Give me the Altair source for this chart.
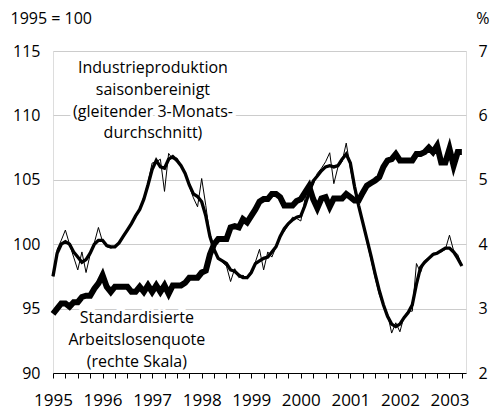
import altair as alt
import pandas as pd

# Monthly data, Jan 1995 .. Apr 2003 (index = months since Jan 1995)
ip_raw = [97.5, 99.6, 100.3, 101.1, 100.0, 99.0, 98.0, 99.4, 97.8, 99.2,
          100.1, 101.3, 100.2, 99.8, 99.7, 99.8, 100.1, 100.5, 101.1, 101.7,
          102.2, 102.8, 103.6, 104.8, 106.3, 106.4, 106.6, 104.1, 107.05, 106.6,
          106.7, 106.1, 105.4, 104.5, 103.6, 102.9, 105.1, 103.0, 100.6, 99.5,
          99.0, 98.6, 98.3, 97.1, 98.1, 97.4, 97.6, 97.3, 97.7, 98.6,
          99.6, 98.0, 99.4, 99.0, 99.8, 100.6, 101.0, 101.5, 102.1, 102.0,
          101.8, 103.5, 104.85, 104.6, 105.5, 105.9, 106.4, 107.1, 104.7, 106.0,
          106.4, 107.85, 105.9, 104.2, 102.9, 101.6, 100.2, 98.8, 97.4, 96.1,
          95.2, 94.6, 93.1, 93.9, 93.2, 94.4, 94.8, 94.8, 98.5, 97.8,
          98.7, 99.0, 99.3, 99.3, 99.4, 99.6, 100.7, 99.5, 99.2, 98.3]

ip_avg = [97.5, 99.3, 100.0, 100.2, 100.0, 99.4, 99.0, 98.6, 98.8, 99.3,
          100.0, 100.3, 100.3, 99.9, 99.8, 99.8, 100.1, 100.6, 101.1, 101.6,
          102.2, 102.7, 103.5, 104.6, 105.8, 106.5, 106.0, 105.9, 106.6, 106.8,
          106.5, 106.1, 105.5, 104.6, 103.9, 103.7, 103.3, 102.2, 100.6, 99.6,
          98.9, 98.7, 98.5, 98.0, 97.9, 97.6, 97.4, 97.4, 97.8, 98.5,
          98.7, 98.9, 99.0, 99.4, 99.8, 100.6, 101.2, 101.6, 101.9, 102.1,
          102.2, 103.0, 104.0, 104.9, 105.3, 105.7, 106.0, 106.1, 106.0, 106.1,
          106.6, 107.0, 106.3, 104.5, 103.0, 101.7, 100.4, 99.1, 97.7, 96.4,
          95.3, 94.4, 93.8, 93.6, 93.8, 94.3, 94.7, 95.3, 96.9, 98.2,
          98.6, 98.9, 99.2, 99.3, 99.5, 99.7, 99.7, 99.4, 98.9, 98.3]

unemp = [2.92, 3.0, 3.08, 3.08, 3.03, 3.1, 3.1, 3.18, 3.2, 3.2,
         3.31, 3.39, 3.52, 3.34, 3.26, 3.34, 3.34, 3.34, 3.34, 3.26,
         3.26, 3.34, 3.26, 3.36, 3.26, 3.36, 3.26, 3.36, 3.23, 3.36,
         3.36, 3.36, 3.4, 3.48, 3.48, 3.48, 3.56, 3.59, 3.84, 4.0,
         4.08, 4.08, 4.08, 4.26, 4.28, 4.26, 4.39, 4.34, 4.44, 4.54,
         4.66, 4.70, 4.70, 4.78, 4.78, 4.73, 4.6, 4.6, 4.6, 4.67,
         4.7, 4.8, 4.9, 4.7, 4.56, 4.71, 4.73, 4.58, 4.71, 4.71,
         4.71, 4.78, 4.73, 4.68, 4.68, 4.8, 4.91, 4.95, 4.99, 5.04,
         5.2, 5.3, 5.32, 5.4, 5.3, 5.3, 5.3, 5.3, 5.4, 5.4,
         5.43, 5.5, 5.43, 5.53, 5.27, 5.27, 5.48, 5.22, 5.43, 5.43]

months = list(range(len(ip_raw)))
year_ticks = [0, 3, 6, 9, 12, 15, 18, 21, 24, 27, 30, 33, 36, 39, 42, 45, 48,
              51, 54, 57, 60, 63, 66, 69, 72, 75, 78, 81, 84, 87, 90, 93, 96, 99]
left_ticks = [90, 95, 100, 105, 110, 115]
right_ticks = [2, 3, 4, 5, 6, 7]

ip_label = ["Industrieproduktion", "saisonbereinigt", "(gleitender 3-Monats-", "durchschnitt)"]
ip_label_m = [24.2, 24.2, 24.2, 24.2]
ip_label_v = [113.7, 112.0, 110.3, 108.6]
ue_label = ["Standardisierte", "Arbeitslosenquote", "(rechte Skala)"]
ue_label_m = [20.3, 20.3, 20.3]
ue_label_v = [94.3, 92.6, 90.85]

df = pd.DataFrame({"m": months, "ip_raw": ip_raw, "ip_avg": ip_avg, "ue": unemp})
ann_ip = pd.DataFrame({"m": ip_label_m, "v": ip_label_v, "t": ip_label})
ann_ue = pd.DataFrame({"m": ue_label_m, "v": ue_label_v, "t": ue_label})

FONT = "Open Sans"

xs = alt.Scale(domain=[0, 100], nice=False, zero=False)
ys_left = alt.Scale(domain=[90, 115], nice=False, zero=False)
ys_right = alt.Scale(domain=[2, 7], nice=False, zero=False)

x_axis = alt.Axis(values=year_ticks, grid=False, domain=True, domainColor="black",
                  domainWidth=1, ticks=True, tickColor="black", tickSize=5, tickWidth=1,
                  labelExpr="datum.value % 12 == 0 ? toString(1995 + datum.value / 12) : ''",
                  labelFlush=False, labelOverlap=False, labelBound=False,
                  labelFontSize=17, labelPadding=14, labelBaseline="top",
                  labelColor="black", title=None)
X = alt.X("m:Q", scale=xs, axis=x_axis)

left_axis = alt.Axis(values=left_ticks, grid=True, gridColor="#cccccc", gridWidth=1,
                     domain=False, ticks=False, labelPadding=13, labelFontSize=16,
                     labelColor="black", title="1995 = 100", titleAngle=0,
                     titleX=-43, titleY=-33, titleAlign="left", titleBaseline="middle",
                     titleFontWeight="normal", titleFontSize=16, titleColor="black")
right_axis = alt.Axis(values=right_ticks, grid=False, orient="right", domain=False,
                      ticks=False, labelPadding=12, labelFontSize=16, labelColor="black",
                      title="%", titleAngle=0, titleX=23, titleY=-33, titleAlign="right",
                      titleBaseline="middle", titleFontWeight="normal", titleFontSize=16,
                      titleColor="black")

thin = alt.Chart(df).mark_line(color="black", strokeWidth=1).encode(
    x=X, y=alt.Y("ip_raw:Q", scale=ys_left, axis=left_axis))
thick = alt.Chart(df).mark_line(color="black", strokeWidth=3.3).encode(
    x=X, y=alt.Y("ip_avg:Q", scale=ys_left, axis=None))
ue = alt.Chart(df).mark_line(color="black", strokeWidth=6).encode(
    x=X, y=alt.Y("ue:Q", scale=ys_right, axis=right_axis))

def labels(d):
    halo = alt.Chart(d).mark_text(font=FONT, fontSize=16, color="white", stroke="white",
                                  strokeWidth=7, align="center", baseline="middle").encode(
        x=X, y=alt.Y("v:Q", scale=ys_left, axis=None), text="t:N")
    txt = alt.Chart(d).mark_text(font=FONT, fontSize=16, color="black",
                                 align="center", baseline="middle").encode(
        x=X, y=alt.Y("v:Q", scale=ys_left, axis=None), text="t:N")
    return halo, txt

h1, t1 = labels(ann_ip)
h2, t2 = labels(ann_ue)

chart = alt.layer(thin, ue, h1, t1, h2, t2, thick).resolve_scale(y="independent").properties(
    width=413, height=322,
    autosize=alt.AutoSizeParams(type="none"),
    padding={"left": 45, "top": 43, "right": 24, "bottom": 40},
).configure_view(stroke=None).configure(font=FONT)

chart.save("out.html", embed_options={"renderer": "svg", "actions": False})
